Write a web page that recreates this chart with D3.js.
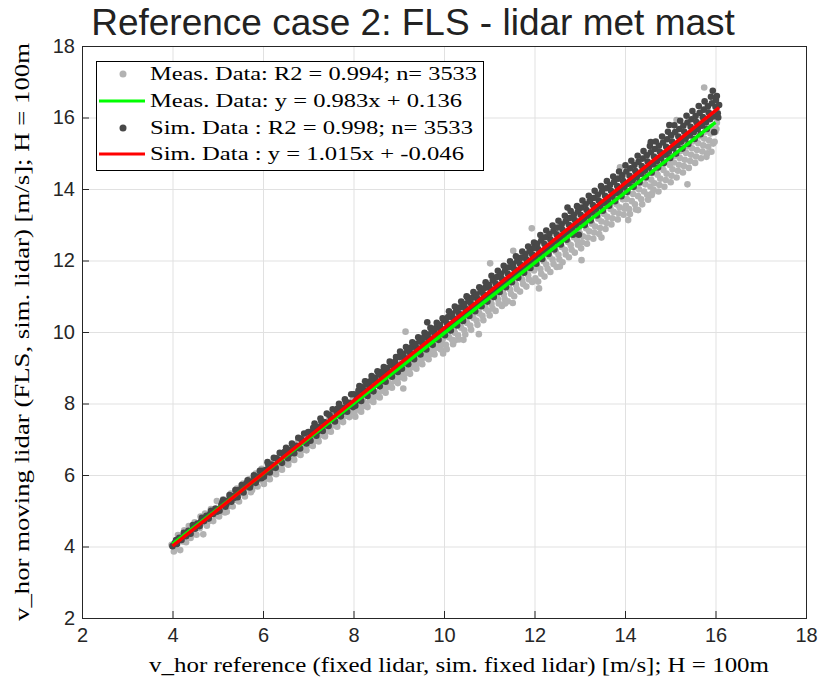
<!DOCTYPE html>
<html>
<head>
<meta charset="utf-8">
<script src="https://cdn.jsdelivr.net/npm/d3@7"></script>
<style>
  body { margin: 0; background: #fff; }
  svg { display: block; }
</style>
</head>
<body>
<svg id="chart" width="835" height="681"></svg>
<script>
const titleText = "Reference case 2: FLS - lidar met mast";
const xLabel = "v_hor reference (fixed lidar, sim. fixed lidar) [m/s]; H = 100m";
const yLabel = "v_hor moving lidar (FLS, sim. lidar) [m/s]; H = 100m";
const xTicks = [2, 4, 6, 8, 10, 12, 14, 16, 18];
const yTicks = [2, 4, 6, 8, 10, 12, 14, 16, 18];
const legendLabels = [
  "Meas. Data: R2 = 0.994; n= 3533",
  "Meas. Data: y = 0.983x + 0.136",
  "Sim. Data : R2 = 0.998; n= 3533",
  "Sim. Data : y = 1.015x + -0.046"
];
// regression fits: slope, intercept, x-range of data
const measFit = [0.983, 0.136, 4.0, 16.0];
const simFit = [1.015, -0.046, 4.0, 16.08];

const measPoints = [
  [3.98,4.05],[4.03,3.86],[4.08,4.10],[4.12,4.32],[4.17,3.90],[4.21,4.23],[4.26,4.45],[4.30,4.12],[4.35,4.35],[4.36,4.57],
  [4.40,4.24],[4.44,4.46],[4.49,4.68],[4.53,4.33],[4.58,4.60],[4.62,4.84],[4.68,4.34],[4.68,4.66],[4.72,4.92],[4.76,4.58],
  [4.81,4.80],[4.85,5.05],[4.90,4.71],[4.94,4.96],[4.98,5.27],
  [5.03,4.84],[5.07,5.06],[5.12,5.32],[5.16,4.95],[5.20,4.97],[5.24,5.24],[5.29,5.48],[5.33,5.12],[5.38,5.37],[5.42,5.62],
  [5.47,5.26],[5.51,5.50],[5.56,5.76],[5.60,5.40],[5.65,5.64],[5.69,5.88],[5.73,5.52],[5.76,5.58],[5.80,5.80],[5.84,6.04],
  [5.88,5.68],[5.93,5.92],[5.97,6.17],
  [6.02,5.75],[6.06,6.01],[6.11,6.29],[6.15,5.88],[6.20,6.15],[6.24,6.42],[6.29,6.02],[6.33,6.28],[6.38,6.56],[6.42,6.15],
  [6.47,6.42],[6.51,6.69],[6.56,6.29],[6.60,6.55],[6.65,6.83],[6.69,6.42],[6.74,6.69],[6.78,6.96],[6.83,6.56],[6.87,6.82],
  [6.92,7.10],[6.96,6.69],
  [7.01,6.94],[7.05,7.21],[7.10,6.81],[7.14,7.07],[7.19,7.35],[7.23,6.94],[7.28,7.21],[7.32,7.48],[7.37,7.08],[7.41,7.34],
  [7.46,7.62],[7.50,7.21],[7.55,7.48],[7.59,7.75],[7.64,7.35],[7.68,7.61],[7.73,7.89],[7.77,7.48],[7.82,7.75],[7.86,8.02],
  [7.91,7.62],[7.95,7.88],[7.99,8.15],
  [8.04,7.63],[8.08,7.93],[8.13,8.22],[8.17,7.77],[8.22,8.06],[8.25,8.62],[8.26,8.35],[8.31,7.90],[8.35,8.20],[8.40,8.49],
  [8.44,8.04],[8.49,8.33],[8.53,8.63],[8.58,8.17],[8.62,8.47],[8.67,8.76],[8.71,8.30],[8.76,8.60],[8.80,8.90],[8.85,8.44],
  [8.89,8.74],[8.94,9.03],[8.98,8.57],
  [9.03,8.86],[9.07,9.15],[9.10,8.42],[9.12,8.70],[9.15,10.01],[9.16,9.00],[9.21,9.29],[9.25,8.83],[9.30,9.13],[9.34,9.42],
  [9.39,8.97],[9.43,9.26],[9.48,9.56],[9.52,9.10],[9.57,9.40],[9.61,9.69],[9.66,9.24],[9.70,9.53],[9.75,9.83],[9.79,9.37],
  [9.84,9.67],[9.88,9.96],[9.93,9.51],[9.97,9.80],[9.98,9.40],
  [10.02,10.03],[10.06,9.52],[10.11,9.85],[10.15,10.16],[10.20,9.66],[10.24,9.76],[10.24,9.98],[10.29,10.30],[10.33,9.79],[10.38,10.12],
  [10.43,9.78],[10.42,10.43],[10.47,9.93],[10.51,10.25],[10.56,10.57],[10.60,10.06],[10.65,10.39],[10.69,10.70],[10.74,10.20],[10.77,9.94],
  [10.78,10.52],[10.83,10.84],[10.87,10.33],[10.92,10.66],[10.96,10.97],
  [11.01,10.46],[11.02,11.92],[11.05,10.78],[11.10,11.10],[11.14,10.59],[11.19,10.92],[11.23,11.22],[11.28,10.73],[11.32,11.05],[11.35,10.80],
  [11.37,11.36],[11.41,10.86],[11.46,11.19],[11.50,11.50],[11.52,10.81],[11.53,12.27],[11.55,11.00],[11.59,11.32],[11.64,11.63],[11.68,11.13],
  [11.73,11.46],[11.77,11.76],[11.82,11.27],[11.86,11.59],[11.91,11.90],[11.94,12.90],[11.95,11.40],[11.99,11.72],
  [12.04,11.96],[12.08,11.41],[12.10,11.22],[12.13,11.76],[12.17,12.10],[12.22,11.55],[12.26,11.89],[12.31,12.23],[12.35,11.68],[12.40,12.03],
  [12.44,12.37],[12.49,11.82],[12.53,12.16],[12.56,11.83],[12.58,12.50],[12.62,11.95],[12.67,12.30],[12.71,12.64],[12.76,12.09],[12.80,12.43],
  [12.85,12.78],[12.89,12.22],[12.94,12.57],[12.98,12.90],
  [13.03,12.34],[13.04,12.01],[13.07,12.68],[13.12,13.03],[13.16,12.47],[13.21,12.82],[13.25,13.16],[13.30,12.61],[13.34,12.95],[13.39,13.30],
  [13.43,12.74],[13.48,12.64],[13.48,13.09],[13.52,13.43],[13.57,12.88],[13.61,13.22],[13.66,13.57],[13.70,13.01],[13.75,13.36],[13.79,13.70],
  [13.84,13.15],[13.88,13.49],[13.89,14.61],[13.93,13.84],[13.97,13.28],
  [14.02,13.53],[14.06,13.90],[14.07,13.13],[14.11,13.30],[14.15,13.66],[14.20,14.04],[14.24,13.43],[14.29,13.41],[14.29,13.80],[14.33,14.17],
  [14.38,13.57],[14.42,13.93],[14.47,14.31],[14.51,13.70],[14.56,14.07],[14.59,13.83],[14.60,14.44],[14.60,13.88],[14.65,14.16],[14.69,14.53],
  [14.74,13.93],[14.78,14.29],[14.83,14.67],[14.87,14.06],[14.92,14.43],[14.96,14.80],
  [15.01,14.19],[15.05,14.55],[15.10,14.93],[15.14,15.93],[15.14,14.32],[15.19,14.68],[15.23,15.06],[15.28,14.46],[15.32,14.82],[15.37,15.19],
  [15.38,14.13],[15.41,14.59],[15.46,14.96],[15.50,15.33],[15.55,14.73],[15.59,15.09],[15.64,15.47],[15.68,14.86],[15.73,15.22],[15.75,16.84],
  [15.77,15.60],[15.80,14.90],[15.82,15.00],[15.86,15.36],[15.91,15.04],[15.91,15.74],[15.95,15.27],[16.00,15.60],[16.03,15.85],
  [4.06,3.97],[4.14,4.25],[4.23,4.14],[4.32,4.43],[4.42,4.33],[4.51,4.62],[4.60,4.51],[4.70,4.81],[4.79,4.70],[4.88,4.99],[4.96,4.87],
  [5.05,4.95],[5.14,5.24],[5.22,5.12],[5.31,5.41],[5.40,5.30],[5.49,5.59],[5.58,5.48],[5.67,5.77],[5.75,5.65],[5.86,5.96],[5.95,5.85],
  [6.04,5.88],[6.13,5.97],[6.22,6.06],[6.31,6.15],[6.40,6.24],[6.49,6.33],[6.58,6.42],[6.67,6.51],[6.76,6.60],[6.85,6.69],[6.94,6.78],
  [7.03,6.85],[7.12,6.94],[7.21,7.03],[7.30,7.12],[7.39,7.21],[7.48,7.30],[7.57,7.39],[7.66,7.48],[7.75,7.57],[7.84,7.66],[7.93,7.75],
  [8.02,7.74],[8.11,7.83],[8.19,7.91],[8.28,8.00],[8.37,8.09],[8.46,8.18],[8.55,8.27],[8.64,8.36],[8.73,8.45],[8.82,8.54],[8.91,8.63],[8.99,8.71],
  [9.05,8.75],[9.14,8.84],[9.23,8.93],[9.32,9.02],[9.41,9.11],[9.50,9.20],[9.59,9.29],[9.68,9.38],[9.77,9.47],[9.86,9.56],[9.95,9.65],
  [10.04,9.64],[10.09,9.96],[10.18,9.78],[10.22,10.09],[10.31,9.91],[10.36,10.23],[10.45,10.05],[10.49,10.36],[10.58,10.18],[10.63,10.50],
  [10.72,10.32],[10.76,10.63],[10.85,10.45],[10.90,10.77],[10.98,10.58],
  [11.03,10.89],[11.07,10.66],[11.16,11.02],[11.21,10.80],[11.30,11.16],[11.34,10.93],[11.43,11.29],[11.48,11.07],[11.57,11.43],[11.61,11.20],
  [11.70,11.56],[11.75,11.34],[11.84,11.70],[11.88,11.47],[11.97,11.83],
  [12.02,11.50],[12.06,11.84],[12.15,11.63],[12.20,11.98],[12.29,11.77],[12.33,12.11],[12.42,11.90],[12.47,12.25],[12.55,12.03],[12.60,12.38],
  [12.69,12.17],[12.74,12.52],[12.82,12.30],[12.87,12.65],[12.96,12.44],
  [13.00,12.76],[13.05,12.51],[13.14,12.90],[13.18,12.64],[13.27,13.03],[13.32,12.78],[13.41,13.17],[13.45,12.91],[13.54,13.30],[13.59,13.05],
  [13.68,13.44],[13.72,13.18],[13.81,13.57],[13.86,13.32],[13.95,13.71],[13.99,13.45],
  [14.04,13.72],[14.09,13.44],[14.18,13.86],[14.22,13.57],[14.31,13.99],[14.36,13.71],[14.45,14.13],[14.49,13.84],[14.58,14.26],[14.63,13.98],
  [14.72,14.40],[14.76,14.11],[14.85,14.53],[14.90,14.25],[14.99,14.67],
  [15.03,14.37],[15.08,14.74],[15.17,14.51],[15.21,14.87],[15.30,14.64],[15.35,15.01],[15.44,14.78],[15.48,15.14],[15.57,14.91],[15.62,15.28],
  [15.71,15.05],[15.75,15.41],[15.84,15.18],[15.89,15.55],[15.98,15.32],[16.02,15.68]
];

// simulated data (dark grey)
const simPoints = [
  [4.00,4.01],[4.05,4.10],[4.10,4.07],[4.15,4.24],[4.20,4.18],[4.25,4.38],[4.30,4.29],[4.35,4.44],[4.40,4.36],[4.45,4.60],
  [4.50,4.50],[4.55,4.64],[4.60,4.57],[4.65,4.80],[4.70,4.71],[4.75,4.86],[4.80,4.78],[4.85,5.00],[4.90,4.91],[4.95,5.06],[4.98,4.97],
  [5.04,5.00],[5.08,5.16],[5.12,5.30],[5.17,5.11],[5.21,5.28],[5.26,5.44],[5.30,5.25],[5.35,5.41],[5.39,5.58],[5.44,5.38],
  [5.48,5.55],[5.53,5.72],[5.57,5.51],[5.62,5.68],[5.66,5.85],[5.71,5.65],[5.75,5.82],[5.80,5.99],[5.84,5.78],[5.89,5.96],[5.93,6.12],[5.97,5.91],
  [6.02,5.95],[6.06,6.14],[6.10,6.36],[6.15,6.07],[6.19,6.29],[6.24,6.48],[6.28,6.20],[6.33,6.42],[6.37,6.62],[6.42,6.34],
  [6.46,6.55],[6.51,6.76],[6.55,6.47],[6.60,6.70],[6.64,6.88],[6.69,6.61],[6.73,6.82],[6.78,7.04],[6.82,6.74],[6.87,6.96],[6.91,7.16],[6.96,6.88],
  [7.00,7.20],[7.05,6.96],[7.09,7.21],[7.14,7.44],[7.18,7.10],[7.23,7.34],[7.27,7.58],[7.32,7.23],[7.36,7.48],[7.41,7.72],
  [7.45,7.37],[7.50,7.61],[7.54,7.84],[7.59,7.50],[7.63,7.75],[7.68,7.99],[7.72,7.64],[7.77,7.88],[7.81,8.12],[7.86,7.77],[7.90,8.02],[7.95,8.26],[7.99,7.90],
  [8.04,7.94],[8.08,8.22],[8.13,8.49],[8.17,8.07],[8.22,8.36],[8.26,8.62],[8.31,8.21],[8.35,8.49],[8.40,8.77],[8.44,8.34],
  [8.49,8.63],[8.53,8.90],[8.58,8.48],[8.62,8.76],[8.67,9.02],[8.71,8.61],[8.76,8.90],[8.80,9.17],[8.85,8.75],[8.89,9.03],[8.94,9.30],[8.98,8.88],
  [9.03,9.45],[9.07,8.97],[9.12,9.28],[9.16,9.58],[9.21,9.10],[9.25,9.42],[9.30,9.71],[9.34,9.24],[9.39,9.55],[9.43,9.85],
  [9.48,9.37],[9.52,9.69],[9.57,9.98],[9.61,9.51],[9.63,10.27],[9.66,9.82],[9.70,10.12],[9.75,9.64],[9.79,9.96],[9.84,10.26],[9.88,9.78],[9.93,10.09],[9.97,10.38],
  [10.02,9.91],[10.06,10.25],[10.11,10.58],[10.15,10.04],[10.20,10.39],[10.24,10.71],[10.29,10.18],[10.33,10.52],[10.38,10.85],[10.42,10.31],
  [10.47,10.66],[10.50,11.00],[10.51,10.98],[10.56,10.45],[10.60,10.79],[10.65,11.12],[10.69,10.58],[10.74,10.93],[10.78,11.25],[10.83,10.72],[10.87,11.06],[10.92,11.39],[10.96,10.85],
  [11.01,11.23],[11.05,11.57],[11.10,10.98],[11.14,11.36],[11.19,11.71],[11.23,11.12],[11.28,11.49],[11.32,11.85],[11.37,11.25],[11.41,11.63],
  [11.46,11.98],[11.50,11.39],[11.55,11.76],[11.59,12.12],[11.64,11.52],[11.68,11.90],[11.73,12.25],[11.77,11.66],[11.82,12.03],[11.86,12.39],[11.91,11.79],[11.95,12.17],[11.99,12.50],
  [12.04,11.91],[12.08,12.32],[12.13,12.71],[12.17,12.04],[12.22,12.46],[12.26,12.84],[12.31,12.18],[12.35,12.59],[12.40,12.98],[12.44,12.31],
  [12.49,12.73],[12.53,13.11],[12.58,12.45],[12.62,12.86],[12.67,13.25],[12.73,13.48],[12.71,12.58],[12.76,13.00],[12.80,13.38],[12.85,12.72],[12.89,13.13],[12.94,13.52],[12.98,12.72],
  [13.02,13.28],[13.06,13.68],[13.11,12.99],[13.15,13.41],[13.20,13.81],[13.24,13.12],[13.29,13.55],[13.33,13.95],[13.38,13.26],[13.42,13.68],
  [13.47,14.08],[13.51,13.39],[13.56,13.81],[13.60,14.22],[13.65,13.53],[13.69,13.95],[13.74,14.35],[13.78,13.66],[13.83,14.08],[13.87,14.49],[13.92,13.80],[13.96,14.22],
  [14.01,14.66],[14.05,13.92],[14.10,14.37],[14.14,14.79],[14.19,14.06],[14.23,14.50],[14.28,14.93],[14.32,14.19],[14.37,14.64],[14.41,15.06],
  [14.46,14.33],[14.50,14.77],[14.55,15.20],[14.57,15.31],[14.59,14.46],[14.64,14.91],[14.68,15.33],[14.73,14.60],[14.77,15.04],[14.82,15.47],[14.86,14.73],[14.91,15.18],[14.95,15.60],[14.98,15.79],
  [15.00,14.87],[15.04,15.33],[15.09,15.78],[15.13,14.99],[15.18,15.47],[15.22,15.91],[15.27,15.13],[15.31,15.60],[15.36,16.05],[15.40,15.26],
  [15.45,15.74],[15.49,16.18],[15.54,15.40],[15.58,15.87],[15.63,16.32],[15.67,15.53],[15.72,16.01],[15.76,16.45],[15.81,15.68],[15.85,16.14],
  [15.90,16.58],[15.94,16.75],[15.97,15.59],[16.00,16.30],[16.03,16.60],[16.06,16.00],[16.08,16.35],
  [4.08,4.18],[4.27,4.37],[4.46,4.52],[4.63,4.70],[4.83,4.90],
  [5.02,5.02],[5.10,5.23],[5.19,5.19],[5.27,5.40],[5.36,5.36],[5.45,5.58],[5.54,5.54],[5.63,5.76],[5.72,5.72],[5.81,5.94],[5.90,5.90],[5.99,6.12],
  [6.04,6.05],[6.12,6.29],[6.21,6.21],[6.30,6.47],[6.39,6.40],[6.48,6.65],[6.57,6.57],[6.66,6.83],[6.75,6.76],[6.84,7.01],[6.93,6.93],
  [7.02,7.03],[7.11,7.32],[7.20,7.22],[7.29,7.50],[7.38,7.39],[7.47,7.68],[7.56,7.58],[7.65,7.86],[7.74,7.75],[7.83,8.04],[7.92,7.94],
  [8.01,8.26],[8.06,8.08],[8.11,8.36],[8.15,8.17],[8.20,8.45],[8.24,8.26],[8.29,8.54],[8.33,8.35],[8.38,8.63],[8.42,8.44],
  [8.47,8.72],[8.51,8.53],[8.56,8.81],[8.60,8.62],[8.65,8.90],[8.69,8.71],[8.74,8.99],[8.78,8.80],[8.83,9.08],[8.87,8.89],[8.92,9.17],[8.96,8.98],
  [9.01,9.30],[9.05,9.08],[9.10,9.39],[9.14,9.17],[9.19,9.48],[9.23,9.26],[9.28,9.57],[9.32,9.35],[9.37,9.66],[9.41,9.44],
  [9.46,9.75],[9.50,9.53],[9.55,9.84],[9.59,9.62],[9.64,9.93],[9.68,9.71],[9.73,10.02],[9.77,9.80],[9.82,10.11],[9.86,9.89],[9.91,10.20],[9.95,9.98],
  [10.00,10.33],[10.04,10.08],[10.09,10.42],[10.13,10.17],[10.18,10.51],[10.22,10.26],[10.27,10.60],[10.31,10.35],[10.36,10.69],[10.40,10.44],
  [10.45,10.78],[10.49,10.53],[10.54,10.87],[10.58,10.62],[10.63,10.96],[10.67,10.71],[10.72,11.05],[10.76,10.80],[10.81,11.14],[10.85,10.89],
  [10.90,11.23],[10.94,10.98],[10.99,11.32],
  [11.03,11.08],[11.08,11.45],[11.12,11.17],[11.17,11.54],[11.21,11.26],[11.26,11.63],[11.30,11.35],[11.35,11.72],[11.39,11.44],[11.44,11.81],
  [11.48,11.53],[11.53,11.90],[11.57,11.62],[11.62,11.99],[11.66,11.71],[11.71,12.08],[11.75,11.80],[11.80,12.17],[11.84,11.89],[11.89,12.26],
  [11.93,11.98],[11.98,12.35],
  [12.02,12.08],[12.06,12.47],[12.11,12.17],[12.15,12.56],[12.20,12.26],[12.24,12.65],[12.29,12.35],[12.33,12.74],[12.38,12.44],[12.42,12.83],
  [12.47,12.53],[12.51,12.92],[12.56,12.62],[12.60,13.01],[12.65,12.71],[12.69,13.10],[12.74,12.80],[12.78,13.19],[12.83,12.89],[12.87,13.28],
  [12.92,12.98],[12.96,13.37],
  [13.00,13.07],[13.04,13.48],[13.09,13.16],[13.13,13.57],[13.18,13.25],[13.22,13.66],[13.27,13.34],[13.31,13.75],[13.36,13.43],[13.40,13.84],
  [13.45,13.52],[13.49,13.93],[13.54,13.61],[13.58,14.02],[13.63,13.70],[13.67,14.11],[13.72,13.79],[13.76,14.20],[13.81,13.88],[13.85,14.29],
  [13.90,13.97],[13.94,14.38],[13.99,14.06],
  [14.03,14.49],[14.08,14.15],[14.12,14.58],[14.17,14.24],[14.21,14.67],[14.26,14.33],[14.30,14.76],[14.35,14.42],[14.39,14.85],[14.44,14.51],
  [14.48,14.94],[14.53,14.60],[14.57,15.03],[14.62,14.69],[14.66,15.12],[14.71,14.78],[14.75,15.21],[14.80,14.87],[14.84,15.30],[14.89,14.96],
  [14.93,15.39],[14.97,15.04],
  [15.02,15.50],[15.07,15.14],[15.11,15.59],[15.16,15.23],[15.20,15.68],[15.25,15.32],[15.29,15.77],[15.34,15.41],[15.38,15.86],[15.43,15.50],
  [15.47,15.95],[15.52,15.59],[15.56,16.04],[15.61,15.68],[15.65,16.13],[15.70,15.77],[15.74,16.22],[15.79,15.86],[15.83,16.31],[15.88,15.95],
  [15.92,16.40],[15.96,16.03],[16.01,16.49],[16.05,16.12]
];

const width = 835;
const height = 681;
const plot = { left: 82, right: 806, top: 46, bottom: 618 };
const axisColor = "#262626";
const sans = "'Liberation Sans', Arial, sans-serif";
const serif = "'Liberation Serif', 'Times New Roman', serif";

const svg = d3.select("#chart");

const x = d3.scaleLinear().domain([2, 18]).range([plot.left, plot.right]);
const y = d3.scaleLinear().domain([2, 18]).range([plot.bottom, plot.top]);

// grid
const grid = svg.append("g").attr("stroke", "#e1e1e1").attr("stroke-width", 1);
grid.selectAll(".gx").data(xTicks).join("line")
  .attr("class", "gx")
  .attr("x1", d => x(d) + 0.5).attr("x2", d => x(d) + 0.5)
  .attr("y1", plot.top).attr("y2", plot.bottom);
grid.selectAll(".gy").data(yTicks).join("line")
  .attr("class", "gy")
  .attr("x1", plot.left).attr("x2", plot.right)
  .attr("y1", d => y(d) + 0.5).attr("y2", d => y(d) + 0.5);

// scatter
svg.append("g").selectAll("circle").data(measPoints).join("circle")
  .attr("cx", d => x(d[0]))
  .attr("cy", d => y(d[1]))
  .attr("r", 3.3)
  .attr("fill", "#b2b2b2");

svg.append("g").selectAll("circle").data(simPoints).join("circle")
  .attr("cx", d => x(d[0]))
  .attr("cy", d => y(d[1]))
  .attr("r", 3.3)
  .attr("fill", "#484848");

// fit lines
const line = d3.line().x(d => x(d[0])).y(d => y(d[1]));
function fitEnds(f) {
  return [[f[2], f[0] * f[2] + f[1]], [f[3], f[0] * f[3] + f[1]]];
}
svg.append("path").attr("d", line(fitEnds(measFit)))
  .attr("fill", "none").attr("stroke", "#00ff00").attr("stroke-width", 3.5);
svg.append("path").attr("d", line(fitEnds(simFit)))
  .attr("fill", "none").attr("stroke", "#ff0000").attr("stroke-width", 3.5);

// axes
const xAxis = svg.append("g")
  .attr("transform", `translate(0,${plot.bottom})`)
  .call(d3.axisBottom(x).tickValues(xTicks).tickSize(-7).tickPadding(10));
const yAxis = svg.append("g")
  .attr("transform", `translate(${plot.left},0)`)
  .call(d3.axisLeft(y).tickValues(yTicks).tickSize(-7).tickPadding(7));
[xAxis, yAxis].forEach(a => {
  a.select(".domain").remove();
  a.selectAll("line").attr("stroke", axisColor);
  a.selectAll("text")
    .attr("font-family", sans)
    .attr("font-size", 20)
    .attr("fill", axisColor);
});

svg.append("rect")
  .attr("x", plot.left + 0.5).attr("y", plot.top + 0.5)
  .attr("width", plot.right - plot.left).attr("height", plot.bottom - plot.top)
  .attr("fill", "none").attr("stroke", axisColor).attr("stroke-width", 1);

// title
svg.append("text")
  .attr("x", 413).attr("y", 35)
  .attr("text-anchor", "middle")
  .attr("font-family", sans)
  .attr("font-size", 37)
  .attr("fill", "#222")
  .text(titleText);

// axis labels
svg.append("text")
  .attr("x", 459).attr("y", 672)
  .attr("text-anchor", "middle")
  .attr("font-family", serif)
  .attr("font-size", 20)
  .attr("textLength", 620)
  .attr("lengthAdjust", "spacingAndGlyphs")
  .attr("fill", "#000")
  .text(xLabel);

svg.append("text")
  .attr("transform", `translate(29,332) rotate(-90)`)
  .attr("text-anchor", "middle")
  .attr("font-family", serif)
  .attr("font-size", 20)
  .attr("textLength", 578)
  .attr("lengthAdjust", "spacingAndGlyphs")
  .attr("fill", "#000")
  .text(yLabel);

// legend
const legend = svg.append("g");
legend.append("rect")
  .attr("x", 96.5).attr("y", 61.5).attr("width", 387).attr("height", 109)
  .attr("fill", "#fff").attr("stroke", "#000").attr("stroke-width", 1);

const rowY = [74, 101, 128, 154];
const rowLen = [327, 312, 323, 314];
const rowKind = ["dot", "line", "dot", "line"];
const rowColor = ["#b2b2b2", "#00ff00", "#484848", "#ff0000"];

legendLabels.forEach((label, i) => {
  if (rowKind[i] === "dot") {
    legend.append("circle").attr("cx", 123).attr("cy", rowY[i]).attr("r", 3.5).attr("fill", rowColor[i]);
  } else {
    legend.append("line")
      .attr("x1", 99).attr("x2", 145).attr("y1", rowY[i]).attr("y2", rowY[i])
      .attr("stroke", rowColor[i]).attr("stroke-width", 3);
  }
  legend.append("text")
    .attr("x", 150).attr("y", rowY[i] + 6)
    .attr("font-family", serif)
    .attr("font-size", 19)
    .attr("textLength", rowLen[i])
    .attr("lengthAdjust", "spacingAndGlyphs")
    .attr("fill", "#000")
    .text(label);
});
</script>
</body>
</html>
